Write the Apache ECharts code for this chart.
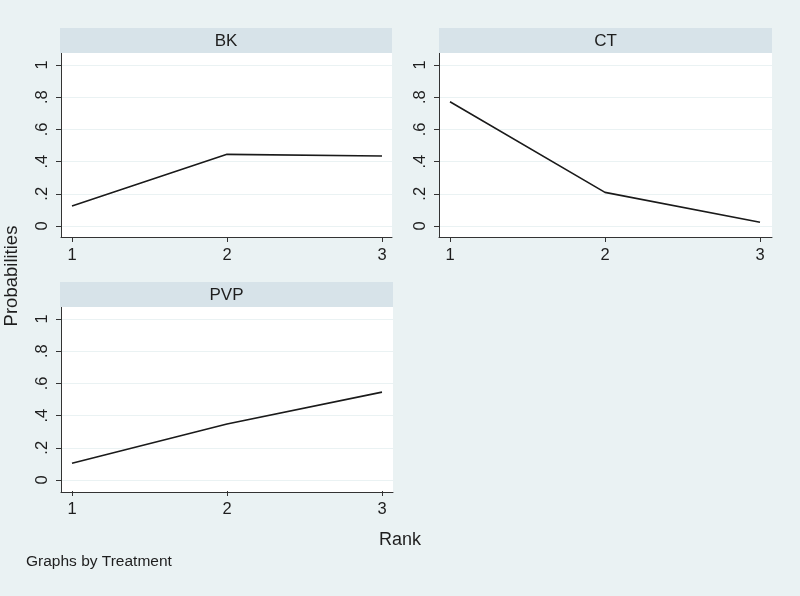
<!DOCTYPE html>
<html>
<head>
<meta charset="utf-8">
<script src="https://cdn.jsdelivr.net/npm/echarts@6/dist/echarts.min.js"></script>
<style>
html,body{margin:0;padding:0;background:#eaf2f3;}
#c{width:800px;height:596px;}
</style>
</head>
<body>
<div id="c"></div>
<script>
const treatments = ['BK', 'CT', 'PVP'];
const ranks = [1, 2, 3];
const bkValues = [0.124, 0.445, 0.435];
const ctValues = [0.772, 0.209, 0.023];
const pvpValues = [0.104, 0.348, 0.546];
const yTickLabels = ['0', '.2', '.4', '.6', '.8', '1'];
const xTitle = 'Rank';
const yTitle = 'Probabilities';
const note = 'Graphs by Treatment';

const seriesValues = [bkValues, ctValues, pvpValues];

// panel layout: frame box, data area (y 0..1), data area (x 1..3)
const panels = [
  {frame: [61, 53, 331, 184], yTop: 65, yH: 161, xLeft: 72, xW: 310, head: [60, 28, 332, 25]},
  {frame: [439, 53, 333, 184], yTop: 65, yH: 161, xLeft: 450, xW: 310, head: [439, 28, 333, 25]},
  {frame: [61, 307, 332, 185], yTop: 319, yH: 161, xLeft: 72, xW: 310, head: [60, 282, 333, 25]}
];

const FONT = '"Liberation Sans", Arial, Helvetica, sans-serif';
const grid = [], xAxis = [], yAxis = [], series = [], graphic = [];

panels.forEach((p, k) => {
  const [fl, ft, fw, fh] = p.frame;
  const gFrame = 3 * k, gA = 3 * k + 1, gB = 3 * k + 2;
  grid.push({left: fl, top: ft, width: fw, height: fh, show: true, backgroundColor: '#ffffff', borderWidth: 0, z: -1});
  grid.push({left: fl, top: p.yTop, width: fw, height: p.yH});
  grid.push({left: p.xLeft, top: p.yTop, width: p.xW, height: p.yH});

  // frame axes: only lines
  xAxis.push({gridIndex: gFrame, type: 'value', min: 0, max: 1, position: 'bottom',
    axisLine: {show: true, onZero: false, lineStyle: {color: '#333333', width: 1}},
    axisTick: {show: false}, axisLabel: {show: false}, splitLine: {show: false}});
  yAxis.push({gridIndex: gFrame, type: 'value', min: 0, max: 1, position: 'left',
    axisLine: {show: true, onZero: false, lineStyle: {color: '#333333', width: 1}},
    axisTick: {show: false}, axisLabel: {show: false}, splitLine: {show: false}});

  // grid A: y ticks, labels, gridlines
  xAxis.push({gridIndex: gA, type: 'value', min: 0, max: 1, show: false});
  yAxis.push({gridIndex: gA, type: 'value', min: 0, max: 1, interval: 0.2, position: 'left',
    axisLine: {show: false},
    axisTick: {show: true, length: 5, lineStyle: {color: '#333333', width: 1}},
    axisLabel: {show: true, rotate: 90, margin: 10, color: '#1e1e1e', fontSize: 16.5, fontFamily: FONT,
      formatter: (v) => yTickLabels[Math.round(v * 5)]},
    splitLine: {show: true, lineStyle: {color: '#eaf2f3', width: 1}}});

  // grid B: x ticks, labels, series
  xAxis.push({gridIndex: gB, type: 'value', min: 1, max: 3, interval: 1, position: 'bottom', offset: 11,
    axisLine: {show: false, onZero: false},
    axisTick: {show: true, length: 5, lineStyle: {color: '#333333', width: 1}},
    axisLabel: {show: true, margin: 10, color: '#1e1e1e', fontSize: 16.5, fontFamily: FONT, formatter: (v) => String(v)},
    splitLine: {show: false}});
  yAxis.push({gridIndex: gB, type: 'value', min: 0, max: 1, show: false});

  series.push({
    type: 'line', name: treatments[k], xAxisIndex: gB, yAxisIndex: gB,
    data: ranks.map((r, i) => [r, seriesValues[k][i]]),
    showSymbol: false, symbol: 'none', silent: true,
    lineStyle: {color: '#1a1a1a', width: 1.6}
  });

  const [hl, ht, hw, hh] = p.head;
  graphic.push({type: 'rect', left: hl, top: ht, shape: {width: hw, height: hh}, style: {fill: '#d7e3e9'}, z: 1});
  graphic.push({type: 'text', x: hl + hw / 2, y: ht + hh / 2 + 1,
    style: {text: treatments[k], fill: '#1e1e1e', font: '17px ' + FONT, textAlign: 'center', textVerticalAlign: 'middle'}, z: 2});
});

graphic.push({type: 'text', x: 12, y: 276, rotation: Math.PI / 2,
  style: {text: yTitle, fill: '#1e1e1e', font: '18.5px ' + FONT, textAlign: 'center', textVerticalAlign: 'middle'}});
graphic.push({type: 'text', x: 400, y: 540,
  style: {text: xTitle, fill: '#1e1e1e', font: '18px ' + FONT, textAlign: 'center', textVerticalAlign: 'middle'}});
graphic.push({type: 'text', x: 26, y: 562,
  style: {text: note, fill: '#1e1e1e', font: '15.5px ' + FONT, textAlign: 'left', textVerticalAlign: 'middle'}});

const chart = echarts.init(document.getElementById('c'), null, {renderer: 'canvas'});
chart.setOption({
  backgroundColor: '#eaf2f3',
  animation: false,
  grid, xAxis, yAxis, series, graphic
});
</script>
</body>
</html>
